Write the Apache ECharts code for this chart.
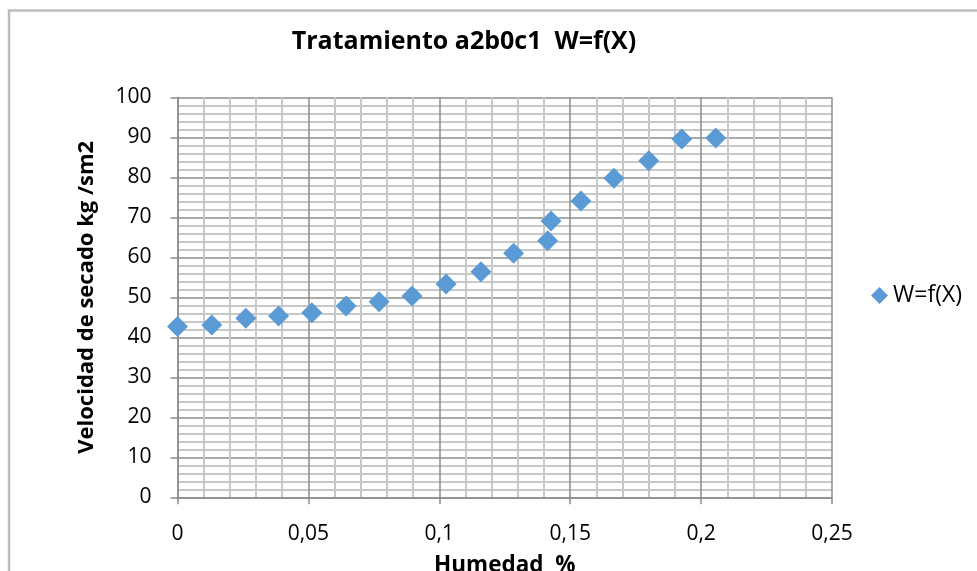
<!DOCTYPE html>
<html><head><meta charset="utf-8">
<script src="https://cdn.jsdelivr.net/npm/echarts@6/dist/echarts.min.js"></script>
<style>html,body{margin:0;padding:0;background:#fff}#c{width:977px;height:571px}</style>
</head><body><div id="c"></div>
<script>
const humedad = [0.0, 0.0131, 0.0261, 0.0386, 0.0513, 0.0644, 0.077, 0.0896, 0.1026, 0.1159, 0.1284, 0.1414, 0.1427, 0.1541, 0.1667, 0.18, 0.1926, 0.2056];
const velocidad = [42.7, 43.1, 44.75, 45.3, 46.15, 47.8, 48.9, 50.3, 53.3, 56.4, 61.0, 64.15, 69.1, 74.1, 79.75, 84.15, 89.6, 89.8];
const seriesName = 'W=f(X)';
const titleText = 'Tratamiento a2b0c1  W=f(X)';
const xName = 'Humedad  %';
const yName = 'Velocidad de secado kg /sm2';

const chart = echarts.init(document.getElementById('c'));
const font = '"Open Sans", sans-serif';
chart.setOption({
  backgroundColor: '#fff',
  animation: false,
  title: { text: titleText, left: 459, top: 24, textAlign: 'center',
    textStyle: { fontFamily: font, fontSize: 25, fontWeight: 'bold', color: '#000' } },
  legend: { right: 10, top: 279, itemWidth: 17, itemHeight: 17, itemGap: 8,
    data: [{ name: seriesName, icon: 'diamond' }],
    textStyle: { fontFamily: font, fontSize: 23, color: '#000' } },
  grid: { left: 177.5, right: 145, top: 97.3, bottom: 73.7, containLabel: false, outerBoundsMode: 'none' },
  xAxis: {
    type: 'value', min: 0, max: 0.25, interval: 0.05,
    name: xName, nameLocation: 'middle', nameGap: 57,
    nameTextStyle: { fontFamily: font, fontSize: 22.5, fontWeight: 'bold', color: '#000' },
    axisLine: { show: true, lineStyle: { color: '#8c8c8c', width: 1.5 } },
    axisTick: { show: true, length: 7, lineStyle: { color: '#8c8c8c', width: 1.5 } },
    axisLabel: { margin: 26, fontFamily: font, fontSize: 21, color: '#000',
      formatter: v => String(+v.toFixed(2)).replace('.', ',') },
    splitLine: { show: true, lineStyle: { color: '#8c8c8c', width: 1.5 } },
    minorTick: { show: false, splitNumber: 5 },
    minorSplitLine: { show: true, lineStyle: { color: '#c8c8c8', width: 2 } }
  },
  yAxis: {
    type: 'value', min: 0, max: 100, interval: 10,
    name: yName, nameLocation: 'middle', nameGap: 80, nameRotate: 90,
    nameTextStyle: { fontFamily: font, fontSize: 22, fontWeight: 'bold', color: '#000' },
    axisLine: { show: true, lineStyle: { color: '#8c8c8c', width: 1.5 } },
    axisTick: { show: true, length: 7, lineStyle: { color: '#8c8c8c', width: 1.5 } },
    axisLabel: { margin: 26, fontFamily: font, fontSize: 21, color: '#000' },
    splitLine: { show: true, lineStyle: { color: '#8c8c8c', width: 1.5 } },
    minorTick: { show: false, splitNumber: 5 },
    minorSplitLine: { show: true, lineStyle: { color: '#c8c8c8', width: 2 } }
  },
  graphic: [{ type: 'rect', shape: { x: 9, y: 10.5, width: 980, height: 580 },
    style: { fill: 'none', stroke: '#bdbdbd', lineWidth: 2.5 }, silent: true }],
  series: [{
    name: seriesName, type: 'scatter', symbol: 'diamond', symbolSize: 21,
    itemStyle: { color: '#5b9bd5', opacity: 1 },
    data: humedad.map((x, i) => [x, velocidad[i]])
  }]
});
</script></body></html>
